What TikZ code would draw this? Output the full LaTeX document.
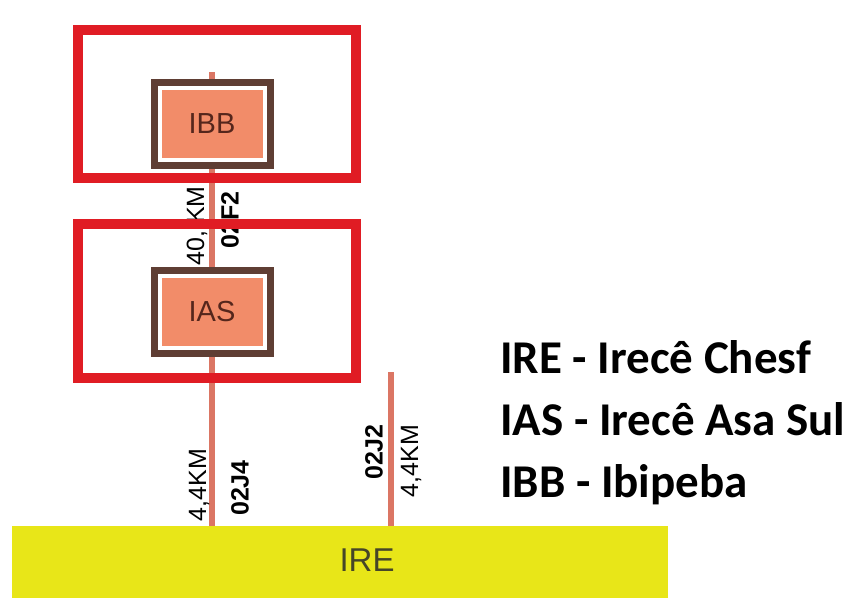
\documentclass[tikz,border=0pt]{standalone}
\usepackage{fontspec}
\setmainfont{Liberation Sans}
\newfontfamily\legendfont{Carlito}
\usetikzlibrary{backgrounds}

\definecolor{framered}{RGB}{224,28,36}
\definecolor{boxbrown}{RGB}{95,62,52}
\definecolor{nodesalmon}{RGB}{242,140,105}
\definecolor{stationtext}{RGB}{85,38,28}
\definecolor{linesalmon}{RGB}{219,118,100}
\definecolor{irefill}{RGB}{232,230,24}
\definecolor{iretext}{RGB}{70,70,40}

\begin{document}
\begin{tikzpicture}[x=1pt, y=-1pt,
        station/.style={draw=white, line width=4pt, fill=nodesalmon, text=stationtext,
            minimum width=105pt, minimum height=72pt, inner sep=0pt,
            font=\fontsize{29}{29}\selectfont,
            preaction={draw=boxbrown, line width=18pt}},
        feeder/.style={draw=linesalmon, line width=6pt},
        dist/.style={rotate=90, inner sep=0pt, font=\fontsize{25}{25}\selectfont},
        code/.style={rotate=90, inner sep=0pt, font=\bfseries\fontsize{25}{25}\selectfont},
        frame/.style={draw=framered, line width=10pt},
        legend/.style={anchor=base west, inner sep=0pt,
            font=\legendfont\bfseries\fontsize{47}{47}\selectfont}]
        \useasboundingbox (0,0) rectangle (858,598);

        % substation bar
        \node[fill=irefill, minimum width=656pt, minimum height=72pt, inner sep=0pt] (ire) at (340,562) {};
        \node[text=iretext, font=\fontsize{33}{33}\selectfont, inner sep=0pt] (irename) at (367,560) {IRE};

        % stations
        \node[station] (ibb) at (212,124) {IBB};
        \node[station] (ias) at (212,312) {IAS};

        % feeders
        \coordinate (j2top) at (391,372);
        \begin{pgfonlayer}{background}
            \draw[feeder] ([yshift=14pt]ibb.north) -- (ibb |- ire.north);
            \draw[feeder] (j2top) -- (j2top |- ire.north);
        \end{pgfonlayer}

        \node[dist] (kmibb) at (197,226) {40, KM};
        \node[code] (cf2) at (230,220) {02F2};
        \node[dist] (kmj4) at (199,485) {4,4KM};
        \node[code] (cj4) at (240,488) {02J4};
        \node[code] (cj2) at (374,452) {02J2};
        \node[dist] (kmj2) at (411,461) {4,4KM};

        % areas
        \draw[frame] (78,30) rectangle (356,178);
        \draw[frame] (78,224) rectangle (356,378);

        % legend
        \node[legend] (legire) at (500,373) {IRE - Irecê Chesf};
        \node[legend] (legias) at (500,435) {IAS - Irecê Asa Sul};
        \node[legend] (legibb) at (500,497) {IBB - Ibipeba};
    \end{tikzpicture}
\end{document}
